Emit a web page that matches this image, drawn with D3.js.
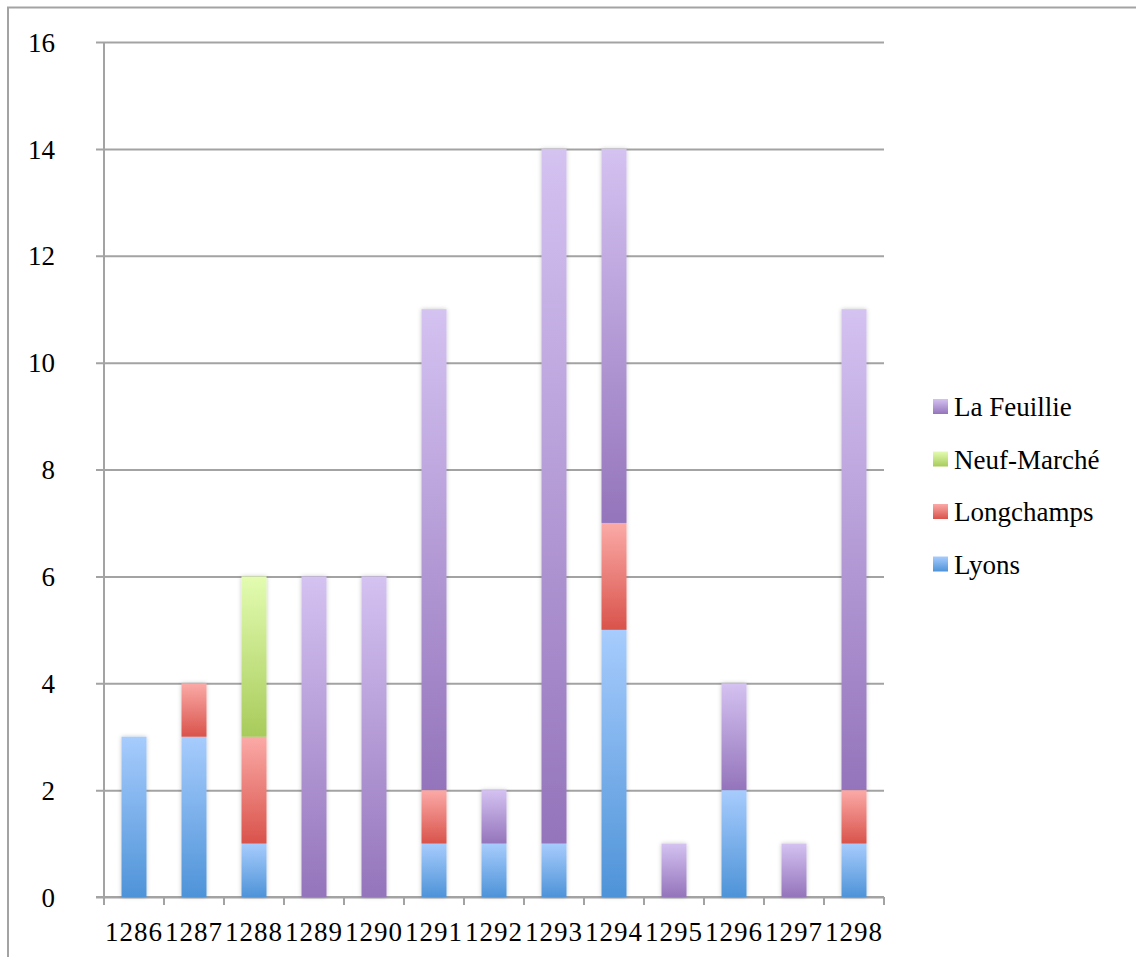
<!DOCTYPE html>
<html>
<head>
<meta charset="utf-8">
<script src="https://cdn.jsdelivr.net/npm/d3@7"></script>
<style>
  html, body { margin: 0; padding: 0; background: #fff; }
  svg { display: block; }
  text { font-family: "Liberation Serif", "DejaVu Serif", serif; fill: #000; }
</style>
</head>
<body>
<svg id="chart" width="1136" height="957"></svg>
<script>
const years = ["1286","1287","1288","1289","1290","1291","1292","1293","1294","1295","1296","1297","1298"];
const seriesNames = ["Lyons","Longchamps","Neuf-Marché","La Feuillie"];
const lyons      = [3,3,1,0,0,1,1,1,5,0,2,0,1];
const longchamps = [0,1,2,0,0,1,0,0,2,0,0,0,1];
const neufMarche = [0,0,3,0,0,0,0,0,0,0,0,0,0];
const laFeuillie = [0,0,0,6,6,9,1,13,7,1,2,1,9];
const yTicks = [0,2,4,6,8,10,12,14,16];
const gradTop    = ["#a7ccfd","#fbaaa7","#e3fcb1","#d4c2f1"];
const gradBottom = ["#4e93d8","#d9534b","#a8cb5b","#9474bb"];

(function () {
const seriesValues = [lyons, longchamps, neufMarche, laFeuillie];
const table = years.map((yr, i) => {
  const row = { year: yr };
  seriesNames.forEach((s, j) => row[s] = seriesValues[j][i]);
  return row;
});

const svg = d3.select("#chart");
const defs = svg.append("defs");
seriesNames.forEach((s, j) => {
  const g = defs.append("linearGradient").attr("id", "grad" + j)
    .attr("x1", 0).attr("y1", 0).attr("x2", 0).attr("y2", 1);
  g.append("stop").attr("offset", "0%").attr("stop-color", gradTop[j]);
  g.append("stop").attr("offset", "100%").attr("stop-color", gradBottom[j]);
});
const f = defs.append("filter").attr("id", "shadow")
  .attr("x", "-50%").attr("y", "-10%").attr("width", "200%").attr("height", "120%");
f.append("feDropShadow").attr("dx", 0).attr("dy", 0).attr("stdDeviation", 2.2)
  .attr("flood-color", "#000").attr("flood-opacity", 0.22);

const pLeft = 104, pRight = 884, pTop = 42, pBottom = 897;
const x = d3.scaleBand().domain(years).range([pLeft, pRight])
  .paddingInner(35/60).paddingOuter(35/120);
const y = d3.scaleLinear().domain([0, 16]).range([pBottom, pTop]);

const gridColor = "#a3a3a3";
const fontFam = "'Liberation Serif', 'DejaVu Serif', serif";

// outer frame
svg.append("path").attr("d", "M8,957 L8,7.5 L1136,7.5")
  .attr("fill", "none").attr("stroke", gridColor).attr("stroke-width", 2);

// y axis with gridlines
const yAxis = d3.axisLeft(y).tickValues(yTicks).tickFormat(d3.format("d"))
  .tickSize(-(pRight - 96)).tickPadding(41);
const gy = svg.append("g").attr("transform", "translate(96,0)").call(yAxis);
gy.select(".domain").remove();
gy.selectAll(".tick line").attr("stroke", gridColor).attr("stroke-width", 2);
gy.selectAll(".tick text").style("font-size", "27px")
  .style("font-family", fontFam).attr("dy", "0.34em");

// y axis line
svg.append("line").attr("x1", pLeft).attr("x2", pLeft).attr("y1", pTop).attr("y2", pBottom + 8)
  .attr("stroke", gridColor).attr("stroke-width", 2);

// x axis labels
const xAxis = d3.axisBottom(x).tickSize(0).tickPadding(25);
const gx = svg.append("g").attr("transform", `translate(0,${pBottom})`).call(xAxis);
gx.select(".domain").remove();
gx.selectAll(".tick text").style("font-size", "27px")
  .style("font-family", fontFam).style("letter-spacing", "1px");

// x axis line and boundary ticks
svg.append("line").attr("x1", 96).attr("x2", pRight).attr("y1", pBottom).attr("y2", pBottom)
  .attr("stroke", gridColor).attr("stroke-width", 2);
const step = x.step();
svg.append("g").selectAll("line").data(d3.range(years.length + 1)).join("line")
  .attr("x1", i => pLeft + i * step).attr("x2", i => pLeft + i * step)
  .attr("y1", pBottom).attr("y2", pBottom + 8)
  .attr("stroke", gridColor).attr("stroke-width", 2);

// stacked bars
const stack = d3.stack().keys(seriesNames)(table);
const barG = svg.append("g");
years.forEach((yr, i) => {
  const g = barG.append("g").attr("filter", "url(#shadow)");
  stack.forEach((layer, j) => {
    const d = layer[i];
    if (d[1] - d[0] <= 0) return;
    g.append("rect")
      .attr("x", x(yr)).attr("width", x.bandwidth())
      .attr("y", y(d[1])).attr("height", y(d[0]) - y(d[1]))
      .attr("fill", `url(#grad${j})`);
  });
});

// legend
const legendOrder = ["La Feuillie","Neuf-Marché","Longchamps","Lyons"];
const lg = svg.append("g").attr("transform", "translate(933,399)");
legendOrder.forEach((name, k) => {
  const j = seriesNames.indexOf(name);
  const row = lg.append("g").attr("transform", `translate(0,${k * 52.5})`);
  row.append("rect").attr("width", 15).attr("height", 15).attr("fill", `url(#grad${j})`);
  row.append("text").attr("x", 21).attr("y", 17).style("font-size", "27px")
    .style("font-family", fontFam).text(name);
});
})();
</script>
</body>
</html>
